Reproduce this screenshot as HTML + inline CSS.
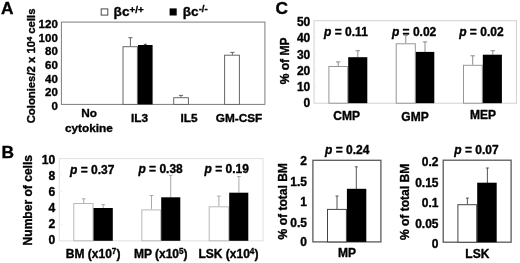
<!DOCTYPE html>
<html lang="en">
<head>
<meta charset="utf-8">
<title>Figure</title>
<style>
html,body{margin:0;padding:0;background:#fff;}
body{width:520px;height:263px;overflow:hidden;}
svg{display:block;filter:blur(0.4px);}
svg text{font-family:"Liberation Sans", sans-serif;font-weight:bold;fill:#000;stroke:#000;stroke-width:0.35px;stroke-linejoin:round;}
</style>
</head>
<body>
<svg width="520" height="263" viewBox="0 0 520 263">
<rect x="0" y="0" width="520" height="263" fill="#fff"/>
<text x="1.0" y="13.9" font-size="17.3" text-anchor="start" >A</text>
<rect x="61.4" y="22.1" width="203.5" height="82.3" fill="none" stroke="#7d7d7d" stroke-width="1"/>
<text x="57.8" y="28.1" font-size="11.5" text-anchor="end" >120</text>
<text x="57.8" y="41.72" font-size="11.5" text-anchor="end" >100</text>
<text x="57.8" y="55.34" font-size="11.5" text-anchor="end" >80</text>
<text x="57.8" y="68.96" font-size="11.5" text-anchor="end" >60</text>
<text x="57.8" y="82.58" font-size="11.5" text-anchor="end" >40</text>
<text x="57.8" y="96.2" font-size="11.5" text-anchor="end" >20</text>
<text x="57.8" y="109.82" font-size="11.5" text-anchor="end" >0</text>
<text transform="translate(35.4,123.3) rotate(-90)" font-size="11.3" text-anchor="start">Colonies/2 x 10<tspan font-size="7.6" dy="-3.4">4</tspan><tspan dy="3.4" font-size="1">&#8203;</tspan> cells</text>
<rect x="101.2" y="8.9" width="6.6" height="6.2" fill="#fff" stroke="#4a4a4a" stroke-width="1"/>
<rect x="169.6" y="8.4" width="7.1" height="7.1" fill="#000"/>
<text x="113.6" y="15.8" font-size="13.6" text-anchor="start" >&#946;c<tspan font-size="9.9" dy="-3.2">+/+</tspan><tspan dy="3.2" font-size="1">&#8203;</tspan></text>
<text x="182.8" y="15.8" font-size="13.6" text-anchor="start" >&#946;c<tspan font-size="9.6" dy="-3.8">-/-</tspan><tspan dy="3.8" font-size="1">&#8203;</tspan></text>
<line x1="130.4" y1="37.7" x2="130.4" y2="46.5" stroke="#666" stroke-width="1"/>
<line x1="128.3" y1="37.7" x2="132.5" y2="37.7" stroke="#666" stroke-width="1"/>
<line x1="145.3" y1="44.3" x2="145.3" y2="45.5" stroke="#444" stroke-width="1"/>
<line x1="143.8" y1="44.3" x2="146.8" y2="44.3" stroke="#444" stroke-width="1"/>
<rect x="123.0" y="46.7" width="14.4" height="57.7" fill="#fff" stroke="#666" stroke-width="1"/>
<rect x="137.9" y="45.0" width="14.7" height="59.4" fill="#000"/>
<line x1="181.0" y1="95.4" x2="181.0" y2="97.5" stroke="#666" stroke-width="1"/>
<line x1="178.9" y1="95.4" x2="183.1" y2="95.4" stroke="#666" stroke-width="1"/>
<rect x="173.7" y="97.7" width="14.7" height="6.7" fill="#fff" stroke="#666" stroke-width="1"/>
<line x1="232.4" y1="52.4" x2="232.4" y2="55" stroke="#666" stroke-width="1"/>
<line x1="230.3" y1="52.4" x2="234.5" y2="52.4" stroke="#666" stroke-width="1"/>
<rect x="224.6" y="55.2" width="14.8" height="49.2" fill="#fff" stroke="#666" stroke-width="1"/>
<text x="89.0" y="117.4" font-size="11.8" text-anchor="middle" >No</text>
<text x="88.9" y="131.8" font-size="11.8" text-anchor="middle" >cytokine</text>
<text x="139.6" y="121.9" font-size="11.8" text-anchor="middle" >IL3</text>
<text x="189.0" y="121.9" font-size="11.8" text-anchor="middle" >IL5</text>
<text x="239.0" y="121.9" font-size="11.8" text-anchor="middle" >GM-CSF</text>
<text x="1.6" y="158.1" font-size="17.3" text-anchor="start" >B</text>
<rect x="59.3" y="158.6" width="203.7" height="82.2" fill="none" stroke="#e0e0e0" stroke-width="1"/>
<line x1="59.3" y1="224.36" x2="62.3" y2="224.36" stroke="#f0f0f0" stroke-width="1"/>
<line x1="59.3" y1="207.92" x2="62.3" y2="207.92" stroke="#f0f0f0" stroke-width="1"/>
<line x1="59.3" y1="191.48" x2="62.3" y2="191.48" stroke="#f0f0f0" stroke-width="1"/>
<line x1="59.3" y1="175.04" x2="62.3" y2="175.04" stroke="#f0f0f0" stroke-width="1"/>
<text x="55.2" y="164.3" font-size="12.1" text-anchor="end" >10</text>
<text x="55.2" y="180.28" font-size="12.1" text-anchor="end" >8</text>
<text x="55.2" y="196.26" font-size="12.1" text-anchor="end" >6</text>
<text x="55.2" y="212.24" font-size="12.1" text-anchor="end" >4</text>
<text x="55.2" y="228.22" font-size="12.1" text-anchor="end" >2</text>
<text x="55.2" y="244.2" font-size="12.1" text-anchor="end" >0</text>
<text transform="translate(32.3,245.4) rotate(-90)" font-size="12.05" text-anchor="start">Number of cells</text>
<line x1="83.7" y1="198.8" x2="83.7" y2="203.0" stroke="#a0a0a0" stroke-width="0.9"/>
<line x1="81.9" y1="198.8" x2="85.5" y2="198.8" stroke="#a0a0a0" stroke-width="0.9"/>
<line x1="103.2" y1="204.7" x2="103.2" y2="208.0" stroke="#a0a0a0" stroke-width="0.9"/>
<line x1="101.4" y1="204.7" x2="105.0" y2="204.7" stroke="#a0a0a0" stroke-width="0.9"/>
<rect x="73.8" y="203.5" width="19.2" height="37.3" fill="#fff" stroke="#b8b8b8" stroke-width="1"/>
<rect x="93.5" y="208.0" width="19.3" height="32.8" fill="#000"/>
<line x1="151.5" y1="195.5" x2="151.5" y2="209.4" stroke="#a0a0a0" stroke-width="0.9"/>
<line x1="149.7" y1="195.5" x2="153.3" y2="195.5" stroke="#a0a0a0" stroke-width="0.9"/>
<line x1="170.7" y1="175.4" x2="170.7" y2="197.3" stroke="#a0a0a0" stroke-width="0.9"/>
<line x1="168.89999999999998" y1="175.4" x2="172.5" y2="175.4" stroke="#a0a0a0" stroke-width="0.9"/>
<rect x="141.8" y="209.9" width="18.9" height="30.9" fill="#fff" stroke="#b8b8b8" stroke-width="1"/>
<rect x="161.2" y="197.3" width="19.1" height="43.5" fill="#000"/>
<line x1="218.9" y1="196.1" x2="218.9" y2="206.3" stroke="#a0a0a0" stroke-width="0.9"/>
<line x1="217.1" y1="196.1" x2="220.70000000000002" y2="196.1" stroke="#a0a0a0" stroke-width="0.9"/>
<line x1="238.9" y1="176.5" x2="238.9" y2="192.7" stroke="#a0a0a0" stroke-width="0.9"/>
<line x1="237.1" y1="176.5" x2="240.70000000000002" y2="176.5" stroke="#a0a0a0" stroke-width="0.9"/>
<rect x="209.2" y="206.8" width="19.5" height="34.0" fill="#fff" stroke="#b8b8b8" stroke-width="1"/>
<rect x="229.2" y="192.7" width="19.1" height="48.1" fill="#000"/>
<text x="70.0" y="173.6" font-size="12" text-anchor="start" ><tspan font-style="italic">p</tspan> = 0.37</text>
<text x="138.4" y="173.3" font-size="12" text-anchor="start" ><tspan font-style="italic">p</tspan> = 0.38</text>
<text x="204.6" y="173.1" font-size="12" text-anchor="start" ><tspan font-style="italic">p</tspan> = 0.19</text>
<text x="65.8" y="257.7" font-size="12" text-anchor="start" >BM (x10<tspan font-size="8.2" dy="-3.6">7</tspan><tspan dy="3.6" font-size="1">&#8203;</tspan>)</text>
<text x="133.9" y="257.7" font-size="12" text-anchor="start" >MP (x10<tspan font-size="8.2" dy="-3.6">5</tspan><tspan dy="3.6" font-size="1">&#8203;</tspan>)</text>
<text x="198.5" y="257.7" font-size="12" text-anchor="start" >LSK (x10<tspan font-size="8.2" dy="-3.6">4</tspan><tspan dy="3.6" font-size="1">&#8203;</tspan>)</text>
<text x="275.5" y="13.9" font-size="17.3" text-anchor="start" >C</text>
<rect x="314.0" y="20.7" width="202.5" height="82.5" fill="none" stroke="#d2d2d2" stroke-width="1"/>
<line x1="314.0" y1="86.7" x2="317.0" y2="86.7" stroke="#f0f0f0" stroke-width="1"/>
<line x1="314.0" y1="70.2" x2="317.0" y2="70.2" stroke="#f0f0f0" stroke-width="1"/>
<line x1="314.0" y1="53.7" x2="317.0" y2="53.7" stroke="#f0f0f0" stroke-width="1"/>
<line x1="314.0" y1="37.2" x2="317.0" y2="37.2" stroke="#f0f0f0" stroke-width="1"/>
<text x="310.3" y="26.0" font-size="12.0" text-anchor="end" >50</text>
<text x="310.3" y="42.25" font-size="12.0" text-anchor="end" >40</text>
<text x="310.3" y="58.5" font-size="12.0" text-anchor="end" >30</text>
<text x="310.3" y="74.75" font-size="12.0" text-anchor="end" >20</text>
<text x="310.3" y="91.0" font-size="12.0" text-anchor="end" >10</text>
<text x="310.3" y="107.25" font-size="12.0" text-anchor="end" >0</text>
<text transform="translate(289.1,84.3) rotate(-90)" font-size="12.05" text-anchor="start">% of MP</text>
<line x1="338.2" y1="61.9" x2="338.2" y2="66.0" stroke="#808080" stroke-width="0.9"/>
<line x1="336.0" y1="61.9" x2="340.4" y2="61.9" stroke="#808080" stroke-width="0.9"/>
<line x1="357.8" y1="50.7" x2="357.8" y2="57.2" stroke="#808080" stroke-width="0.9"/>
<line x1="355.6" y1="50.7" x2="360.0" y2="50.7" stroke="#808080" stroke-width="0.9"/>
<rect x="328.9" y="66.5" width="18.8" height="36.7" fill="#fff" stroke="#969696" stroke-width="1"/>
<rect x="348.2" y="57.2" width="19.1" height="46.0" fill="#000"/>
<line x1="405.8" y1="35.3" x2="405.8" y2="43.3" stroke="#808080" stroke-width="0.9"/>
<line x1="403.6" y1="35.3" x2="408.0" y2="35.3" stroke="#808080" stroke-width="0.9"/>
<line x1="425.0" y1="41.9" x2="425.0" y2="51.9" stroke="#808080" stroke-width="0.9"/>
<line x1="422.8" y1="41.9" x2="427.2" y2="41.9" stroke="#808080" stroke-width="0.9"/>
<rect x="396.2" y="43.8" width="19.1" height="59.4" fill="#fff" stroke="#969696" stroke-width="1"/>
<rect x="415.8" y="51.9" width="18.5" height="51.3" fill="#000"/>
<line x1="472.7" y1="55.8" x2="472.7" y2="64.8" stroke="#808080" stroke-width="0.9"/>
<line x1="470.5" y1="55.8" x2="474.9" y2="55.8" stroke="#808080" stroke-width="0.9"/>
<line x1="492.8" y1="50.7" x2="492.8" y2="54.7" stroke="#808080" stroke-width="0.9"/>
<line x1="490.6" y1="50.7" x2="495.0" y2="50.7" stroke="#808080" stroke-width="0.9"/>
<rect x="463.5" y="65.3" width="18.8" height="37.9" fill="#fff" stroke="#969696" stroke-width="1"/>
<rect x="482.8" y="54.7" width="19.1" height="48.5" fill="#000"/>
<text x="324.1" y="35.9" font-size="12" text-anchor="start" ><tspan font-style="italic">p</tspan> = 0.11</text>
<text x="391.9" y="35.9" font-size="12" text-anchor="start" ><tspan font-style="italic">p</tspan> = 0.02</text>
<text x="459.2" y="35.9" font-size="12" text-anchor="start" ><tspan font-style="italic">p</tspan> = 0.02</text>
<text x="346.7" y="120.1" font-size="12" text-anchor="middle" >CMP</text>
<text x="415.0" y="120.5" font-size="12" text-anchor="middle" >GMP</text>
<text x="482.9" y="119.0" font-size="12" text-anchor="middle" >MEP</text>
<rect x="312.9" y="160.3" width="68.0" height="81.6" fill="none" stroke="#5a5a5a" stroke-width="1.3"/>
<text x="307.0" y="165.3" font-size="12.0" text-anchor="end" >2</text>
<text x="307.0" y="186.3" font-size="12.0" text-anchor="end" >1.5</text>
<text x="307.0" y="205.9" font-size="12.0" text-anchor="end" >1</text>
<text x="307.0" y="226.8" font-size="12.0" text-anchor="end" >0.5</text>
<text x="307.0" y="246.1" font-size="12.0" text-anchor="end" >0</text>
<text transform="translate(286.5,239.4) rotate(-90)" font-size="12.05" text-anchor="start">% of total BM</text>
<line x1="337.0" y1="196.0" x2="337.0" y2="209.2" stroke="#555" stroke-width="1"/>
<line x1="335.5" y1="196.0" x2="338.5" y2="196.0" stroke="#555" stroke-width="1"/>
<line x1="356.3" y1="166.8" x2="356.3" y2="189" stroke="#555" stroke-width="1"/>
<line x1="354.8" y1="166.8" x2="357.8" y2="166.8" stroke="#555" stroke-width="1"/>
<rect x="327.5" y="209.4" width="18.9" height="32.5" fill="#fff" stroke="#444" stroke-width="1"/>
<rect x="346.9" y="188.8" width="19.4" height="53.1" fill="#000"/>
<text x="325.0" y="153.9" font-size="12" text-anchor="start" ><tspan font-style="italic">p</tspan> = 0.24</text>
<text x="347.1" y="257.4" font-size="12" text-anchor="middle" >MP</text>
<rect x="443.2" y="160.2" width="67.9" height="82.0" fill="none" stroke="#5a5a5a" stroke-width="1.3"/>
<text x="438.5" y="165.7" font-size="12.0" text-anchor="end" >0.2</text>
<text x="438.5" y="186.5" font-size="12.0" text-anchor="end" >0.15</text>
<text x="438.5" y="206.9" font-size="12.0" text-anchor="end" >0.1</text>
<text x="438.5" y="227.5" font-size="12.0" text-anchor="end" >0.05</text>
<text x="438.5" y="248.3" font-size="12.0" text-anchor="end" >0</text>
<text transform="translate(408.9,240.1) rotate(-90)" font-size="12.05" text-anchor="start">% of total BM</text>
<line x1="467.4" y1="198.1" x2="467.4" y2="204.5" stroke="#555" stroke-width="1"/>
<line x1="465.9" y1="198.1" x2="468.9" y2="198.1" stroke="#555" stroke-width="1"/>
<line x1="487.4" y1="168.0" x2="487.4" y2="183" stroke="#555" stroke-width="1"/>
<line x1="485.9" y1="168.0" x2="488.9" y2="168.0" stroke="#555" stroke-width="1"/>
<rect x="457.9" y="204.7" width="18.8" height="37.5" fill="#fff" stroke="#444" stroke-width="1"/>
<rect x="477.2" y="182.7" width="19.5" height="59.5" fill="#000"/>
<text x="454.3" y="153.9" font-size="12" text-anchor="start" ><tspan font-style="italic">p</tspan> = 0.07</text>
<text x="477.3" y="257.6" font-size="12" text-anchor="middle" >LSK</text>
</svg>
</body>
</html>
